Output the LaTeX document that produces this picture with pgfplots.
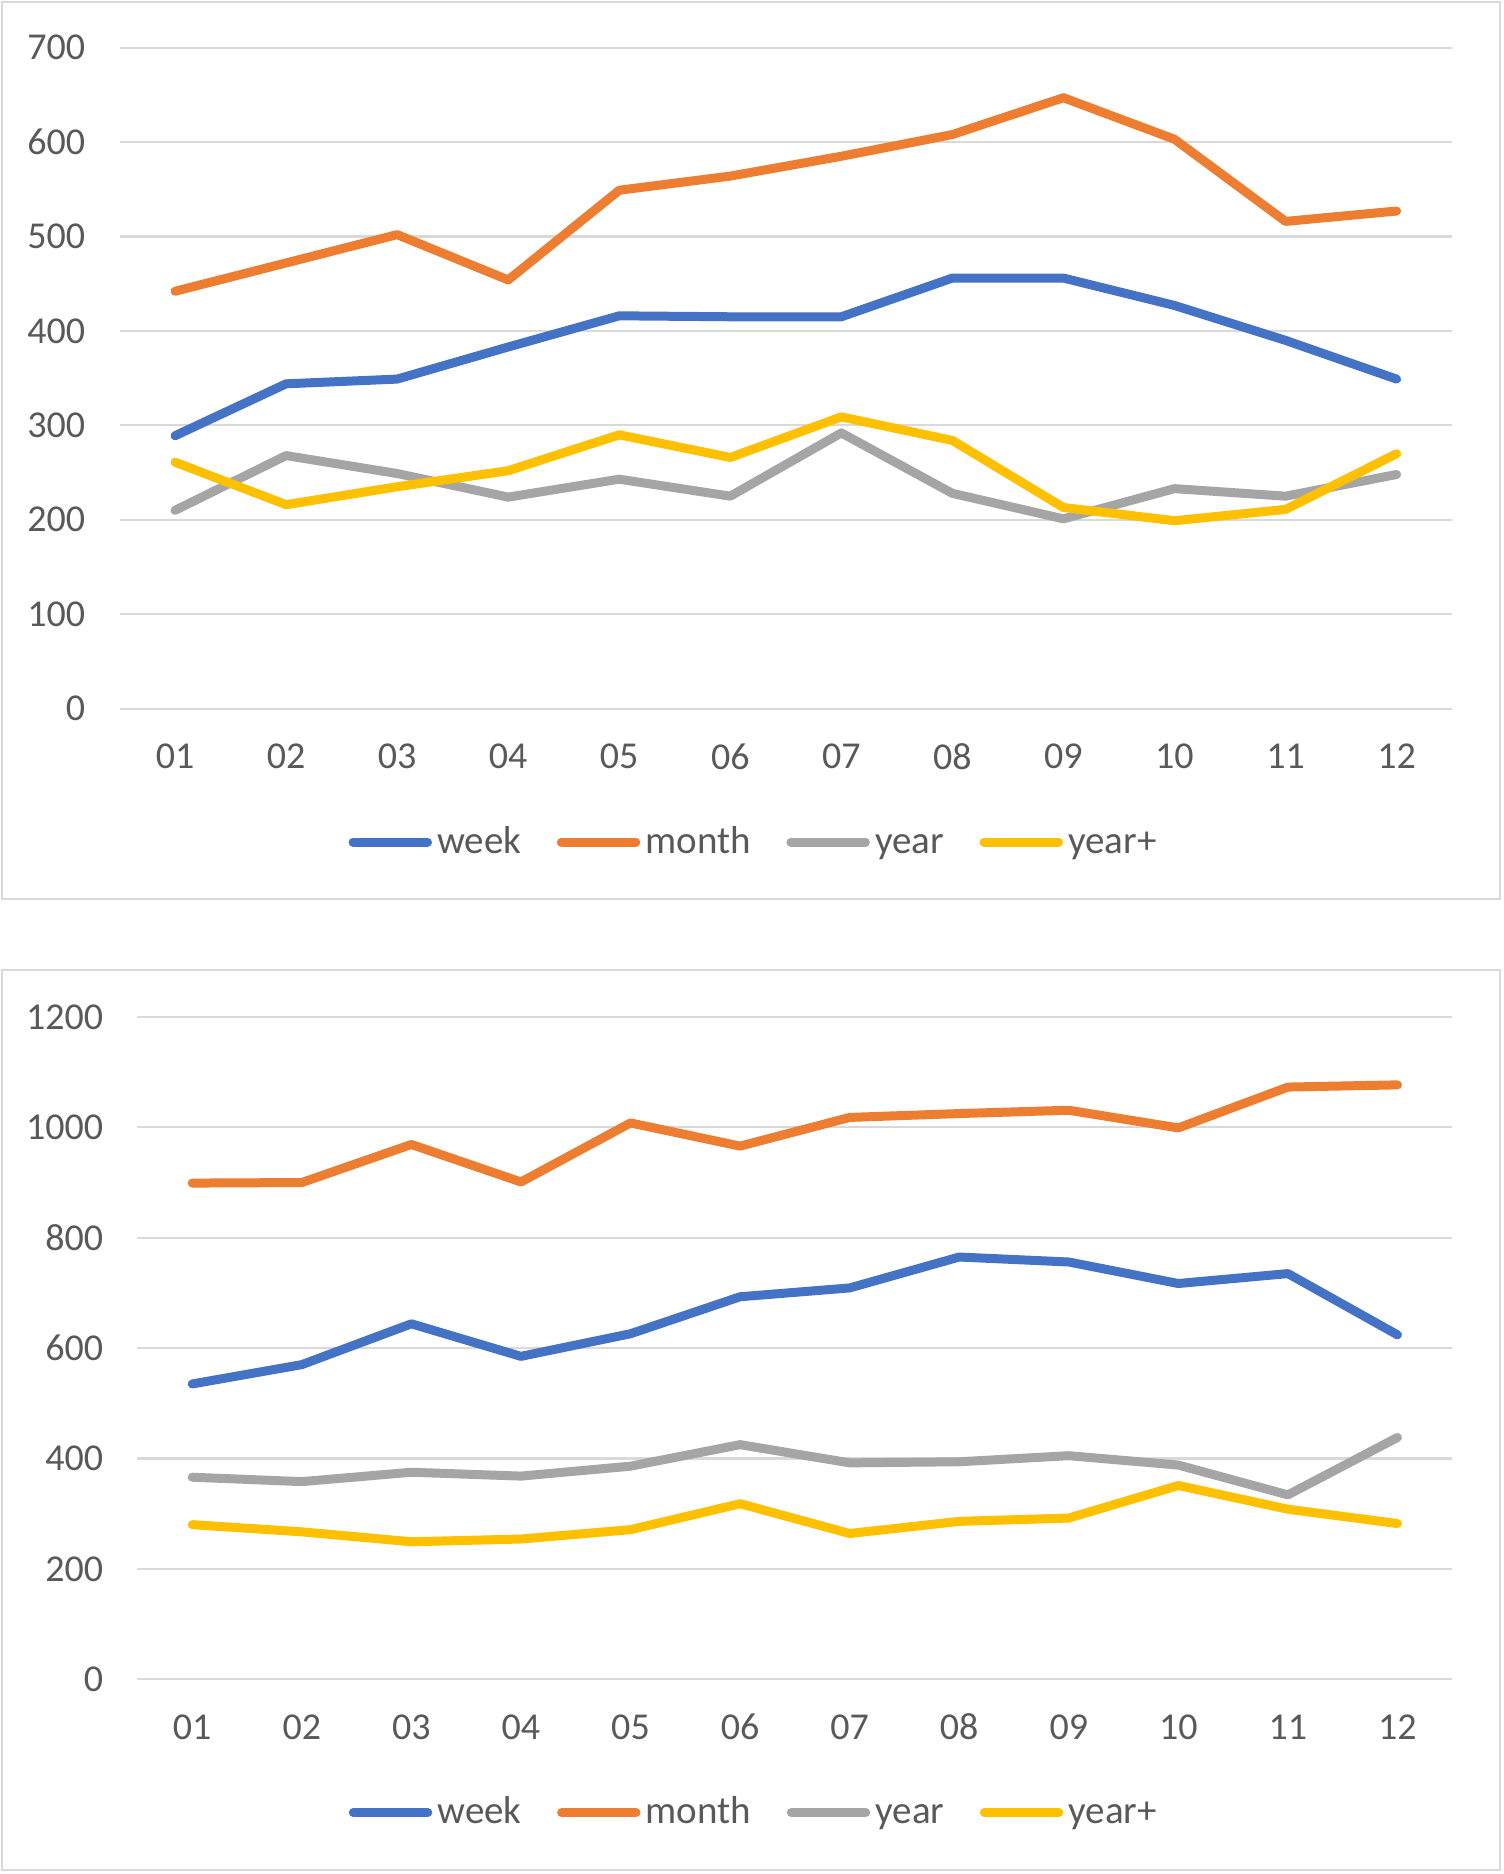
\documentclass[border=0pt]{standalone}
\usepackage{fontspec}
\setmainfont{Carlito}
\usepackage{pgfplots}
\pgfplotsset{compat=1.18}
\definecolor{cweek}{HTML}{4472C4}
\definecolor{cmonth}{HTML}{ED7D31}
\definecolor{cyear}{HTML}{A5A5A5}
\definecolor{cyearp}{HTML}{FFC000}
\definecolor{textgray}{HTML}{595959}
\definecolor{gridgray}{HTML}{D9D9D9}
\pgfplotsset{
  mychart/.style={
    scale only axis,
    xmin=-0.5, xmax=11.5,
    ymin=0,
    axis line style={draw=none},
    tick style={draw=none},
    ymajorgrids,
    major grid style={gridgray, line width=1.1pt},
    xtick={0,...,11},
    xticklabels={01,02,03,04,05,06,07,08,09,10,11,12},
    /pgf/number format/assume math mode=true,
    /pgf/number format/1000 sep={},
    tick label style={font=\fontsize{19}{23}\selectfont, text=textgray, inner sep=0pt},
    xticklabel style={anchor=center, yshift=-23.9pt},
    yticklabel style={anchor=east, xshift=-17pt},
    legend columns=4,
    legend style={draw=none, fill=none, font=\fontsize{19.5}{23}\selectfont, text=textgray,
      nodes={inner sep=0pt, text height=0.72em, text depth=0.22em},
      /tikz/every odd column/.append style={column sep=2.6pt},
      /tikz/every even column/.append style={column sep=17.8pt}},
    legend image code/.code={\draw[#1, line cap=round] (2.25pt,0.3em) -- (39.5pt,0.3em);},
    clip=false,
    every axis plot/.append style={line width=4.5pt, line join=round, line cap=round},
  }
}
\begin{document}
\begin{tikzpicture}
\fill[white] (0pt,0pt) rectangle (752.0pt,937.3pt);
\begin{scope}[x=0.5978pt,y=0.5978pt]
\draw[gridgray, line width=1pt] (2,816) rectangle (1255,1566);
\draw[gridgray, line width=1pt] (2,3) rectangle (1255,756);
\end{scope}
\begin{axis}[mychart, at={(59.78pt,582.86pt)}, anchor=south west,
  width=666.5pt, height=330.6pt, ymax=700, ytick={0,100,...,700},
  legend style={at={(0.475,-0.21)}, anchor=center}]
\addplot[cweek] coordinates {(0,289) (1,344) (2,349) (3,383) (4,416) (5,415) (6,415) (7,456) (8,456) (9,427) (10,390) (11,349)};
\addlegendentry{week}
\addplot[cmonth] coordinates {(0,442) (1,472) (2,502) (3,454) (4,549) (5,564) (6,585) (7,608) (8,647) (9,603) (10,516) (11,527)};
\addlegendentry{month}
\addplot[cyear] coordinates {(0,210) (1,268) (2,249) (3,224) (4,243) (5,225) (6,292) (7,228) (8,201) (9,233) (10,225) (11,248)};
\addlegendentry{year}
\addplot[cyearp] coordinates {(0,261) (1,216) (2,235) (3,252) (4,290) (5,266) (6,309) (7,284) (8,213) (9,199) (10,211) (11,270)};
\addlegendentry{year+}
\end{axis}
\begin{axis}[mychart, at={(68.75pt,97.44pt)}, anchor=south west,
  width=657.6pt, height=331.2pt, ymax=1200, ytick={0,200,...,1200},
  legend style={at={(0.468,-0.2096)}, anchor=center}]
\addplot[cweek] coordinates {(0,535) (1,570) (2,644) (3,585) (4,626) (5,693) (6,709) (7,765) (8,756) (9,717) (10,735) (11,624)};
\addlegendentry{week}
\addplot[cmonth] coordinates {(0,899) (1,900) (2,969) (3,901) (4,1008) (5,966) (6,1018) (7,1025) (8,1031) (9,999) (10,1073) (11,1077)};
\addlegendentry{month}
\addplot[cyear] coordinates {(0,366) (1,358) (2,375) (3,368) (4,386) (5,425) (6,392) (7,394) (8,405) (9,388) (10,334) (11,438)};
\addlegendentry{year}
\addplot[cyearp] coordinates {(0,280) (1,267) (2,249) (3,254) (4,271) (5,318) (6,264) (7,286) (8,292) (9,351) (10,308) (11,282)};
\addlegendentry{year+}
\end{axis}
\end{tikzpicture}
\end{document}
